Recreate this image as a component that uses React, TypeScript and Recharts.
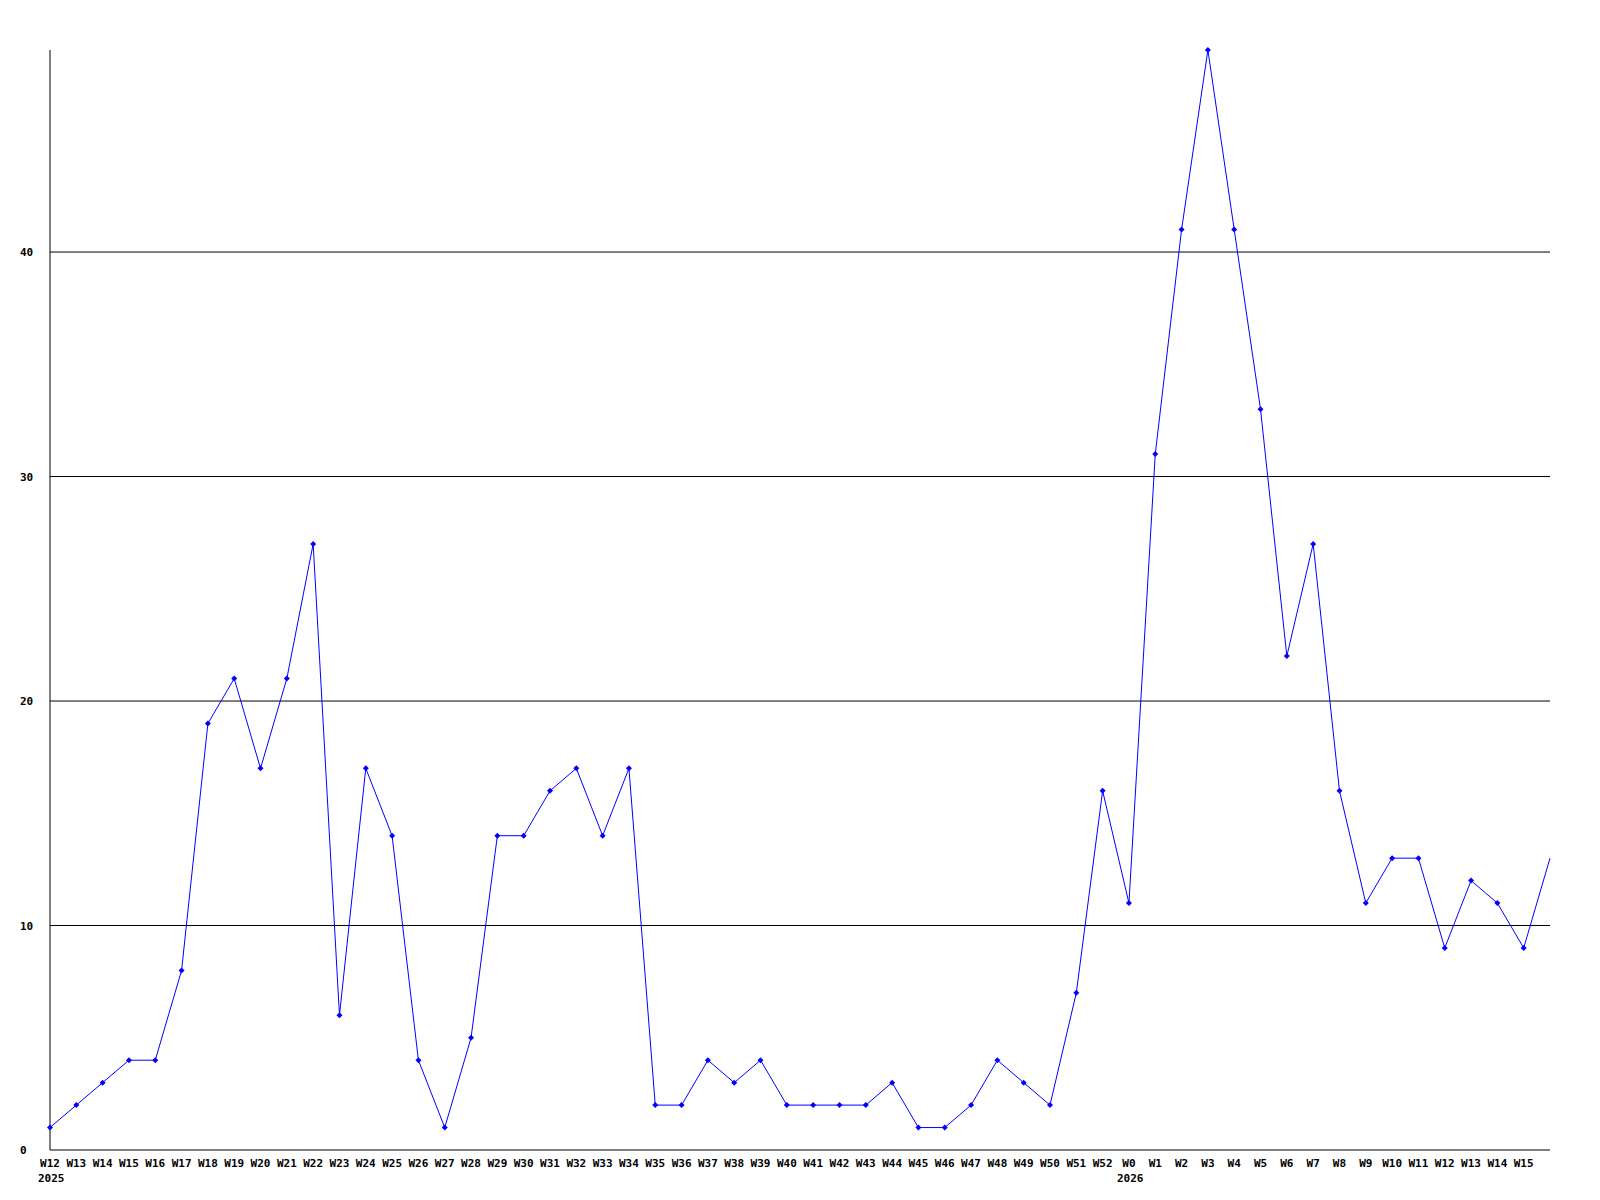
import React from 'react';
import { LineChart, Line, XAxis, YAxis, CartesianGrid } from 'recharts';

// Week labels, the last point has no label of its own
const weeks = [
  'W12', 'W13', 'W14', 'W15', 'W16', 'W17', 'W18', 'W19', 'W20', 'W21',
  'W22', 'W23', 'W24', 'W25', 'W26', 'W27', 'W28', 'W29', 'W30', 'W31',
  'W32', 'W33', 'W34', 'W35', 'W36', 'W37', 'W38', 'W39', 'W40', 'W41',
  'W42', 'W43', 'W44', 'W45', 'W46', 'W47', 'W48', 'W49', 'W50', 'W51',
  'W52', 'W0', 'W1', 'W2', 'W3', 'W4', 'W5', 'W6', 'W7', 'W8',
  'W9', 'W10', 'W11', 'W12', 'W13', 'W14', 'W15', ''
];

const counts = [
  1, 2, 3, 4, 4, 8, 19, 21, 17, 21,
  27, 6, 17, 14, 4, 1, 5, 14, 14, 16,
  17, 14, 17, 2, 2, 4, 3, 4, 2, 2,
  2, 2, 3, 1, 1, 2, 4, 3, 2, 7,
  16, 11, 31, 41, 49, 41, 33, 22, 27, 16,
  11, 13, 13, 9, 12, 11, 9, 13
];

// Year shown under the first week of each year
const yearLabels: Record<number, string> = { 0: '2025', 41: '2026' };

const yTicks = [0, 10, 20, 30, 40];
const gridValues = [10, 20, 30, 40];

const data = weeks.map((week, i) => ({ idx: i, week, count: counts[i] }));

const FONT = '"DejaVu Sans Mono", monospace';

const WeekTick = (props: any) => {
  const { x, y, payload } = props;
  const i = payload.value as number;
  return (
    <g>
      <text x={x} y={y + 15} textAnchor="middle" fontFamily={FONT} fontSize={11} fontWeight="bold" fill="#000">
        {weeks[i]}
      </text>
      {yearLabels[i] && (
        <text x={x - 12} y={y + 30} textAnchor="start" fontFamily={FONT} fontSize={11} fontWeight="bold" fill="#000">
          {yearLabels[i]}
        </text>
      )}
    </g>
  );
};

const CountTick = (props: any) => {
  const { y, payload } = props;
  return (
    <text x={20} y={y + 4} textAnchor="start" fontFamily={FONT} fontSize={11} fontWeight="bold" fill="#000">
      {payload.value}
    </text>
  );
};

const Marker = (props: any) => {
  const { cx, cy, index } = props;
  if (index === counts.length - 1) return <g key={index} />;
  return (
    <path
      key={index}
      d={`M${cx},${cy - 3} L${cx + 3},${cy} L${cx},${cy + 3} L${cx - 3},${cy} Z`}
      fill="#0000ff"
      stroke="none"
    />
  );
};

export default function App() {
  return (
    <div style={{ position: 'absolute', left: 0, top: 0, width: 1600, height: 1200, background: '#fff' }}>
      <LineChart width={1600} height={1200} data={data} margin={{ top: 50, right: 50, bottom: 0, left: 0 }}>
        <CartesianGrid vertical={false} horizontalValues={gridValues} stroke="#000" strokeWidth={1} />
        <XAxis
          dataKey="idx"
          type="number"
          domain={[0, counts.length - 1]}
          ticks={data.map(d => d.idx)}
          interval={0}
          height={50}
          tickLine={false}
          tickSize={0}
          axisLine={{ stroke: '#000' }}
          tick={<WeekTick />}
        />
        <YAxis
          width={50}
          domain={[0, 49]}
          ticks={yTicks}
          tickLine={false}
          tickSize={0}
          axisLine={{ stroke: '#000' }}
          tick={<CountTick />}
        />
        <Line
          type="linear"
          dataKey="count"
          stroke="#0000ff"
          strokeWidth={1}
          dot={<Marker />}
          activeDot={false}
          isAnimationActive={false}
        />
      </LineChart>
    </div>
  );
}
